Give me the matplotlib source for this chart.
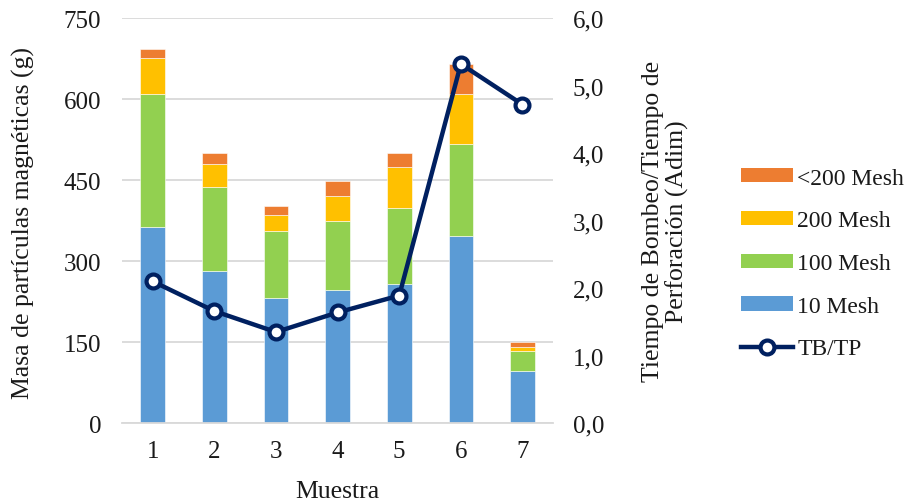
import matplotlib.pyplot as plt
import numpy as np
from matplotlib.lines import Line2D
from matplotlib.patches import Patch

plt.rcParams['font.family'] = ['Liberation Serif', 'DejaVu Serif']

# --- Datos ---
muestras = ['1', '2', '3', '4', '5', '6', '7']
mesh_10 = [364, 281, 231, 246, 257, 346, 97]
mesh_100 = [246, 157, 124, 129, 142, 171, 36]
mesh_200 = [67, 42, 31, 45, 76, 92, 8]
mesh_menor_200 = [15, 20, 17, 28, 25, 56, 9]
tb_tp = [2.10, 1.66, 1.35, 1.64, 1.89, 5.32, 4.72]

colores = ['#5B9BD5', '#92D050', '#FFC000', '#ED7D31']
etiquetas = ['10 Mesh', '100 Mesh', '200 Mesh', '<200 Mesh']
azul_oscuro = '#002060'
# -------------

fig = plt.figure(figsize=(9.1, 5.02), dpi=100)
ax = fig.add_axes([0.134, 0.155, 0.474, 0.807])
ax2 = ax.twinx()

x = np.arange(len(muestras))
base = np.zeros(len(muestras))
for serie, color in zip([mesh_10, mesh_100, mesh_200, mesh_menor_200], colores):
    ax.bar(x, serie, width=0.4, bottom=base, color=color,
           edgecolor='white', linewidth=0.4, zorder=2)
    base += np.array(serie)

ax2.plot(x, tb_tp, color=azul_oscuro, linewidth=3.2, marker='o',
         markersize=10, markerfacecolor='white', markeredgecolor=azul_oscuro,
         markeredgewidth=3, zorder=3)

ax.set_xlim(-0.5, 6.5)
ax.set_ylim(0, 750)
ax.set_yticks(np.arange(0, 751, 150))
ax2.set_ylim(0, 6)
ax2.set_yticks(np.arange(0, 6.01, 1))
ax2.set_yticklabels([f'{v:.1f}'.replace('.', ',') for v in np.arange(0, 6.01, 1)])

ax.set_xticks(x)
ax.set_xticklabels(muestras)

ax.grid(axis='y', color='#D9D9D9', linewidth=1.3, zorder=0)
ax.set_axisbelow(True)
for a in (ax, ax2):
    for s in a.spines.values():
        s.set_visible(False)
ax.spines['bottom'].set_visible(True)
ax.spines['bottom'].set_color('#D9D9D9')
ax.spines['bottom'].set_linewidth(1.3)

ax.tick_params(axis='y', length=0, labelsize=18, colors='#1a1a1a', pad=15)
ax.tick_params(axis='x', length=0, labelsize=18, colors='#1a1a1a', pad=12)
ax2.tick_params(axis='y', length=0, labelsize=18, colors='#1a1a1a', pad=14)

# Títulos de ejes
fig.text(0.5 * (0.134 + 0.608), 0.02, 'Muestra', fontsize=18.5,
         ha='center', va='center', color='#1a1a1a')
fig.text(0.026, 0.555, 'Masa de partículas magnéticas (g)', fontsize=18.5,
         rotation=90, ha='center', va='center', color='#1a1a1a')
fig.text(0.731, 0.558, 'Tiempo de Bombeo/Tiempo de\nPerforación (Adim)',
         fontsize=18.5, rotation=90, ha='center', va='center',
         multialignment='center', linespacing=1.1, color='#1a1a1a')

handles = [Patch(facecolor=c) for c in colores[::-1]]
handles.append(Line2D([], [], color=azul_oscuro, linewidth=3.2, marker='o',
                      markersize=10, markerfacecolor='white',
                      markeredgecolor=azul_oscuro, markeredgewidth=3))
leg = fig.legend(handles, etiquetas[::-1] + ['TB/TP'], loc='center left',
                 bbox_to_anchor=(0.814, 0.473), frameon=False, fontsize=17,
                 handlelength=2.2, handleheight=0.55, labelspacing=0.92,
                 handletextpad=0.2, borderpad=0, borderaxespad=0)
for t in leg.get_texts():
    t.set_color('#1a1a1a')

fig.savefig('out.png', dpi=100)
